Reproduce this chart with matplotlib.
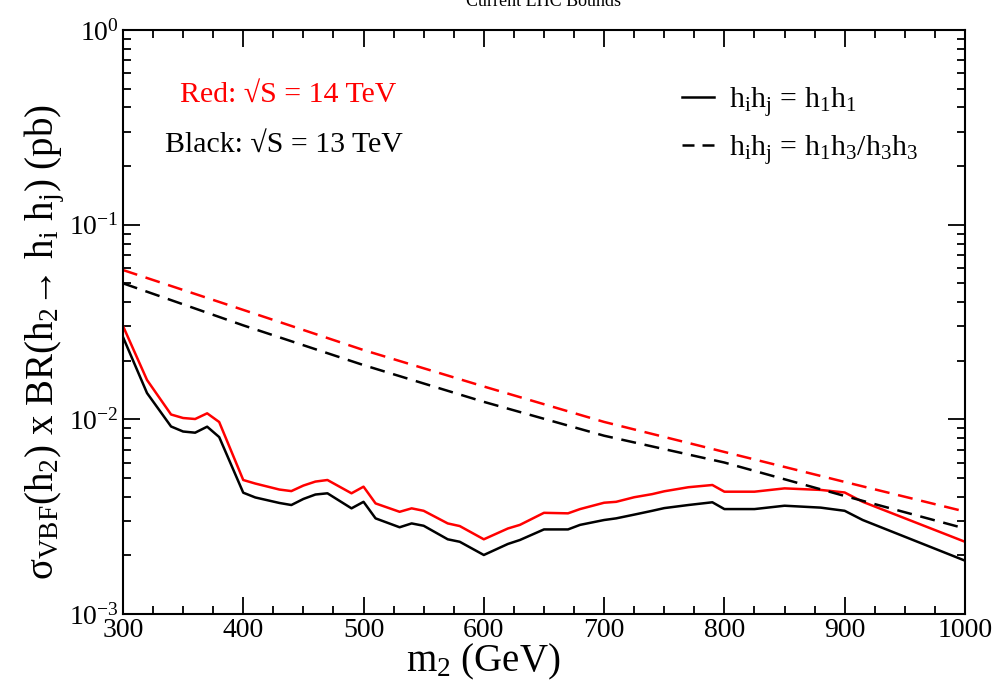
import numpy as np
import matplotlib
matplotlib.use("Agg")
import matplotlib.pyplot as plt
from matplotlib.lines import Line2D
from matplotlib.ticker import MultipleLocator, LogLocator, NullFormatter

plt.rcParams["font.family"] = ["Liberation Serif", "DejaVu Serif"]
plt.rcParams["mathtext.fontset"] = "custom"
plt.rcParams["mathtext.rm"] = "Liberation Serif"
plt.rcParams["mathtext.it"] = "Liberation Serif:italic"
plt.rcParams["mathtext.cal"] = "Liberation Serif"

# solid curves: h_i h_j = h_1 h_1
m2 = [300, 320, 340, 350, 360, 370, 380, 400, 410, 430, 440, 450, 460, 470,
      490, 500, 510, 530, 540, 550, 570, 580, 600, 620, 630, 650, 670, 680,
      700, 710, 725, 740, 750, 770, 790, 800, 825, 850, 880, 900, 915, 1000]
red_solid = [0.0302, 0.01593, 0.01059, 0.01016, 0.01004, 0.01074, 0.00969,
             0.00488, 0.00468, 0.00436, 0.00428, 0.00457, 0.00479, 0.00488,
             0.00417, 0.00451, 0.00370, 0.00335, 0.00349, 0.00339, 0.00292,
             0.00283, 0.00242, 0.00275, 0.00287, 0.00331, 0.00329, 0.00346,
             0.00373, 0.00377, 0.00398, 0.00413, 0.00427, 0.00448, 0.00460,
             0.00425, 0.00425, 0.00442, 0.00434, 0.00421, 0.00377, 0.00235]
black_solid = [0.02649, 0.01365, 0.00919, 0.00866, 0.00854, 0.00917, 0.00811,
               0.00420, 0.00397, 0.00372, 0.00363, 0.00390, 0.00411, 0.00417,
               0.00349, 0.00377, 0.00310, 0.00279, 0.00292, 0.00284, 0.00242,
               0.00235, 0.00201, 0.00229, 0.00240, 0.00272, 0.00272, 0.00287,
               0.00304, 0.00310, 0.00324, 0.00339, 0.00350, 0.00363, 0.00375,
               0.00346, 0.00346, 0.00360, 0.00352, 0.00339, 0.00304, 0.00188]

# dashed curves: h_i h_j = h_1 h_3 / h_3 h_3
m2_d = [300, 400, 500, 600, 700, 800, 900, 1000]
red_dash = [0.0585, 0.0365, 0.0227, 0.01475, 0.0097, 0.0068, 0.00477, 0.00336]
black_dash = [0.0500, 0.0304, 0.0190, 0.0123, 0.00824, 0.00600, 0.00404, 0.00275]

fig = plt.figure(figsize=(9.98, 6.92), dpi=100)
ax = fig.add_axes([0.1232, 0.1127, 0.8437, 0.8439])

lw = 1.8
ax.plot(m2, red_solid, color="#ff0000", lw=lw)
ax.plot(m2, black_solid, color="black", lw=lw)
ax.plot(m2_d, red_dash, color="#ff0000", lw=lw, linestyle=(0, (6, 3.5)))
ax.plot(m2_d, black_dash, color="black", lw=lw, linestyle=(0, (6, 3.5)))

ax.set_yscale("log")
ax.set_xlim(300, 1000)
ax.set_ylim(1e-3, 1e0)
ax.xaxis.set_major_locator(MultipleLocator(100))
ax.xaxis.set_minor_locator(MultipleLocator(25))
ax.yaxis.set_major_locator(LogLocator(base=10, numticks=10))
ax.yaxis.set_minor_locator(LogLocator(base=10, subs=np.arange(2, 10), numticks=20))
ax.yaxis.set_minor_formatter(NullFormatter())

for s in ax.spines.values():
    s.set_linewidth(1.5)
ax.tick_params(which="both", direction="in", top=True, right=True, width=1.3,
               labelsize=20)
ax.tick_params(which="major", length=12, pad=3)
ax.tick_params(which="minor", length=6)

ax.set_xlabel(r"m$_2$ (GeV)", fontsize=28, va="center")
ax.xaxis.set_label_coords(0.428, -0.082)
ax.set_ylabel("σ$_{\\rm VBF}$(h$_2$) x BR(h$_2$→ h$_{\\rm i}$ h$_{\\rm j}$) (pb)",
              fontsize=28, va="center")
ax.yaxis.set_label_coords(-0.0926, 0.466)

ax.text(0.0677, 0.889, "Red: √S = 14 TeV", color="#ff0000",
        fontsize=21.5, transform=ax.transAxes, va="center")
ax.text(0.0499, 0.804, "Black: √S = 13 TeV", color="black",
        fontsize=21.5, transform=ax.transAxes, va="center")

handles = [Line2D([], [], color="black", lw=lw),
           Line2D([], [], color="black", lw=lw, linestyle=(0, (4.8, 3.2)))]
labels = [r"h$_{\rm i}$h$_{\rm j}$ = h$_1$h$_1$",
          r"h$_{\rm i}$h$_{\rm j}$ = h$_1$h$_3$/h$_3$h$_3$"]
ax.legend(handles, labels, loc="upper left", bbox_to_anchor=(0.643, 0.937),
          frameon=False, fontsize=21.5, handlelength=1.05, handletextpad=0.5,
          labelspacing=0.47, borderaxespad=0.2)

fig.text(0.545, 0.998, "Current LHC Bounds", fontsize=13, ha="center", va="center")

fig.savefig("out.png", dpi=100)
